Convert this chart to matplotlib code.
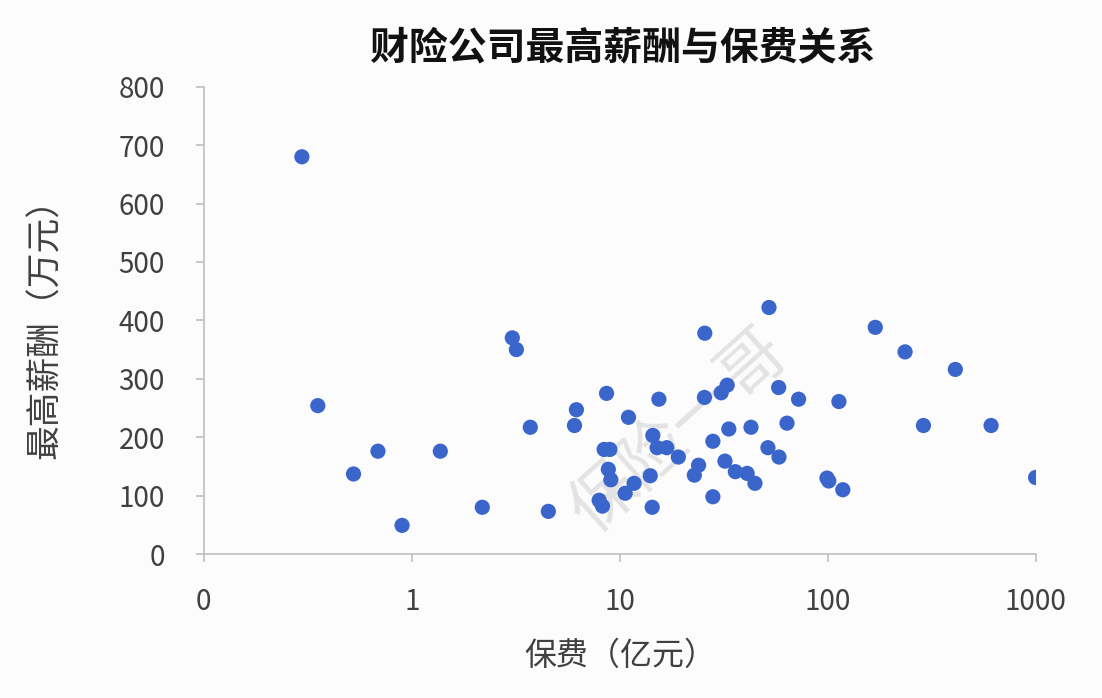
import matplotlib.pyplot as plt
from matplotlib.ticker import FixedLocator, FixedFormatter, NullLocator

plt.rcParams['font.family'] = ['Noto Sans CJK SC', 'DejaVu Sans']

# premium (亿元) and top salary (万元)
premium = [0.296, 0.353, 0.524, 0.687, 0.897, 1.37, 2.18, 3.04, 3.18, 3.71,
           4.53, 6.05, 6.18, 7.95, 8.25, 8.40, 8.63, 8.80, 8.95, 9.05,
           10.6, 11.0, 11.7, 14.0, 14.3, 14.4, 15.1, 15.4, 16.8, 19.1,
           22.8, 23.9, 25.5, 25.6, 28.0, 28.0, 30.7, 32.0, 32.8, 33.4,
           35.9, 40.9, 42.7, 44.6, 51.5, 52.1, 58.0, 58.2, 63.6, 72.3,
           99.0, 101.0, 113.0, 118.0, 169.0, 235.0, 288.0, 410.0, 609.0, 997.0]
salary = [680, 254, 137, 176, 49, 176, 80, 370, 350, 217,
          73, 220, 247, 92, 82, 179, 275, 145, 179, 127,
          104, 234, 121, 134, 80, 203, 182, 265, 182, 166,
          135, 152, 268, 378, 98, 193, 276, 159, 289, 214,
          141, 138, 217, 121, 182, 422, 285, 166, 224, 265,
          130, 125, 261, 110, 388, 346, 220, 316, 220, 131]

x_ticks = [0.1, 1, 10, 100, 1000]
x_tick_labels = ['0', '1', '10', '100', '1000']
y_ticks = [0, 100, 200, 300, 400, 500, 600, 700, 800]

title = '财险公司最高薪酬与保费关系'
x_label = '保费（亿元）'
y_label = '最高薪酬（万元）'

fig = plt.figure(figsize=(11.02, 6.98), dpi=100, facecolor='#fcfcfd')
ax = fig.add_axes([0.185, 0.2063, 0.755, 0.6695])
ax.set_facecolor('#fcfcfd')

ax.scatter(premium, salary, s=120, color='#3a66cc', edgecolors='none', zorder=3)

ax.set_xscale('log')
ax.set_xlim(0.1, 1000)
ax.set_ylim(0, 800)
ax.xaxis.set_major_locator(FixedLocator(x_ticks))
ax.xaxis.set_major_formatter(FixedFormatter(x_tick_labels))
ax.xaxis.set_minor_locator(NullLocator())
ax.set_yticks(y_ticks)

for side in ['top', 'right']:
    ax.spines[side].set_visible(False)
for side in ['left', 'bottom']:
    ax.spines[side].set_color('#bfbfbf')
    ax.spines[side].set_linewidth(1.2)

ax.tick_params(axis='both', colors='#bfbfbf', length=6, width=1.2,
               labelcolor='#404040', labelsize=20)
ax.tick_params(axis='x', pad=18)
ax.tick_params(axis='y', pad=22)

ax.set_xlabel(x_label, fontsize=23, color='#404040', labelpad=16)
ax.set_ylabel(y_label, fontsize=25, color='#404040', labelpad=40)
fig.text(0.565, 0.932, title, ha='center', va='center', fontsize=28,
         fontweight='bold', color='#111111')

# faint watermark
ax.text(0.572, 0.26, '保险一哥', transform=ax.transAxes, fontsize=48,
        rotation=42, color='#cfcfcf', alpha=0.55, ha='center', va='center',
        zorder=2)

fig.savefig('out.png', dpi=100, facecolor=fig.get_facecolor())
